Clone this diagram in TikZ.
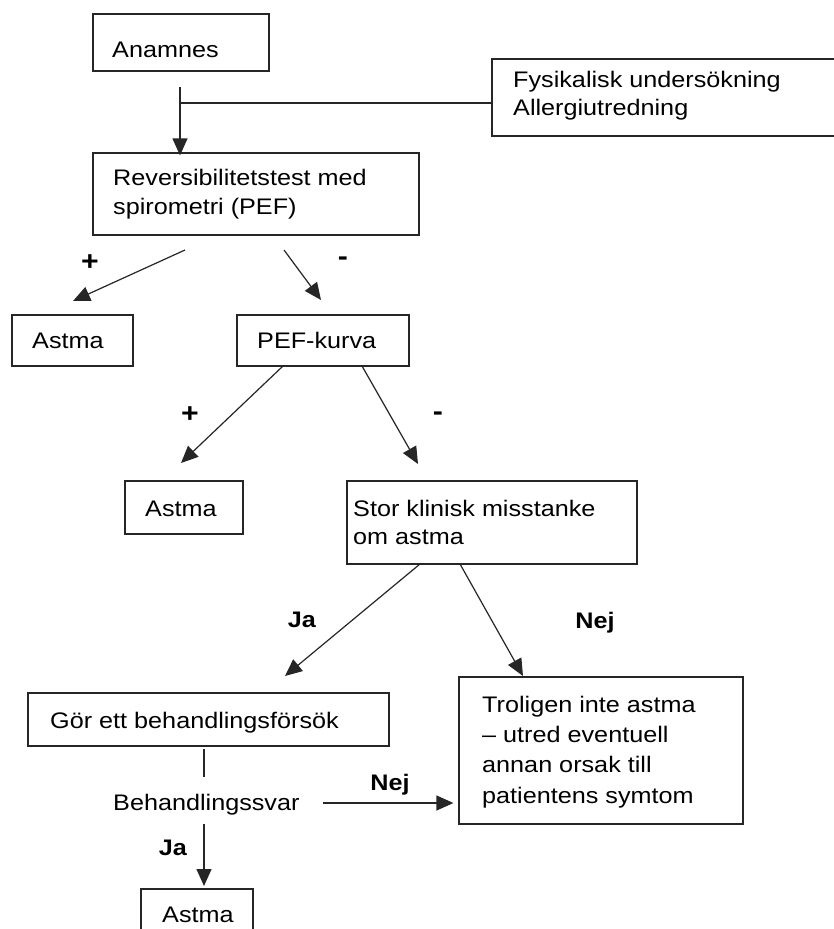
\documentclass[tikz,border=0pt]{standalone}
\usepackage{fontspec}
\setmainfont{Liberation Sans}[FakeStretch=1.12]
\usetikzlibrary{arrows.meta}
\begin{document}
\begin{tikzpicture}[x=1pt,y=-1pt,
  box/.style={draw=black!85, line width=1.2pt, inner sep=0pt},
  txt/.style={anchor=base west, inner sep=0pt, font=\fontsize{22.5}{30}\selectfont},
  lbl/.style={inner sep=0pt, font=\fontsize{22.5}{30}\selectfont\bfseries},
  sgn/.style={inner sep=0pt, font=\fontsize{27}{30}\selectfont\bfseries},
  ln/.style={line width=1.2pt, draw=black!85},
  arr/.style={ln, -{Triangle[length=17pt,width=15pt]}}]
\useasboundingbox (0,0) rectangle (833,929);
\fill[white] (0,0) rectangle (833,929);
% boxes
\node[box, minimum width=176pt, minimum height=57pt] (anam) at (181,42.5) {};
\node[box, minimum width=348pt, minimum height=77pt] (fys) at (666,97.5) {};
\node[box, minimum width=326pt, minimum height=82pt] (rev) at (256,194) {};
\node[box, minimum width=121pt, minimum height=51pt] (ast1) at (72.5,340.5) {};
\node[box, minimum width=172pt, minimum height=51pt] (pef) at (323,340.5) {};
\node[box, minimum width=118pt, minimum height=53pt] (ast2) at (184,507.5) {};
\node[box, minimum width=290pt, minimum height=83pt] (stor) at (492,522.5) {};
\node[box, minimum width=361pt, minimum height=53pt] (gor) at (208.5,719.5) {};
\node[box, minimum width=284pt, minimum height=147pt] (tro) at (601,750.5) {};
\node[box, minimum width=112pt, minimum height=60pt] (ast3) at (197,919) {};
% texts
\node[txt] (anamt) at (112,57) {Anamnes};
\node[txt] (fyst1) at (513,87) {Fysikalisk undersökning};
\node[txt] (fyst2) at (513,115) {Allergiutredning};
\node[txt] (revt1) at (113,185) {Reversibilitetstest med};
\node[txt] (revt2) at (113,214) {spirometri (PEF)};
\node[txt] (ast1t) at (32,348) {Astma};
\node[txt] (peft) at (257,348) {PEF-kurva};
\node[txt] (ast2t) at (145,516) {Astma};
\node[txt] (stort1) at (353,516) {Stor klinisk misstanke};
\node[txt] (stort2) at (353,544) {om astma};
\node[txt] (gort) at (50,728) {Gör ett behandlingsförsök};
\node[txt] (trot1) at (482,712) {Troligen inte astma};
\node[txt] (trot2) at (482,742) {– utred eventuell};
\node[txt] (trot3) at (482,772) {annan orsak till};
\node[txt] (trot4) at (482,803) {patientens symtom};
\node[txt] (beh) at (113,810) {Behandlingssvar};
\node[txt] (ast3t) at (162,922) {Astma};
% labels
\node[sgn] (p1) at (90,263) {+};
\node[sgn] (m1) at (343,261) {-};
\node[sgn] (p2) at (190,415) {+};
\node[sgn] (m2) at (438,416) {-};
\node[lbl] (ja1) at (302,620) {Ja};
\node[lbl] (nej1) at (595,623) {Nej};
\node[lbl] (nej2) at (390,785) {Nej};
\node[lbl] (ja2) at (173,848) {Ja};
% connector coordinates
\coordinate (a1) at (180,87);
\coordinate (j1) at (180,103);
\coordinate (r1) at (185,250);
\coordinate (r1e) at (73,301);
\coordinate (r2) at (284,250);
\coordinate (r2e) at (321,300);
\coordinate (q1) at (283,366);
\coordinate (q1e) at (181,463);
\coordinate (q2) at (362,366);
\coordinate (q2e) at (418,464);
\coordinate (s1) at (420,564);
\coordinate (s1e) at (285,676);
\coordinate (s2) at (460,564);
\coordinate (s2e) at (523,676);
\coordinate (g1) at (204,749);
\coordinate (g1e) at (204,777);
\coordinate (b1) at (204,824);
\coordinate (b1e) at (204,886);
\coordinate (b2) at (323,803);
% connectors
\draw[ln] (a1) -- (j1);
\draw[ln] (fys.west |- j1) -- (j1);
\draw[arr] (j1) -- ([yshift=-3pt]rev.north -| j1);
\draw[arr] (r1) -- (r1e);
\draw[arr] (r2) -- (r2e);
\draw[arr] (q1) -- (q1e);
\draw[arr] (q2) -- (q2e);
\draw[arr] (s1) -- (s1e);
\draw[arr] (s2) -- (s2e);
\draw[ln] (g1) -- (g1e);
\draw[arr] (b1) -- (b1e);
\draw[arr] (b2) -- ([xshift=-5pt]tro.west |- b2);
\end{tikzpicture}
\end{document}
